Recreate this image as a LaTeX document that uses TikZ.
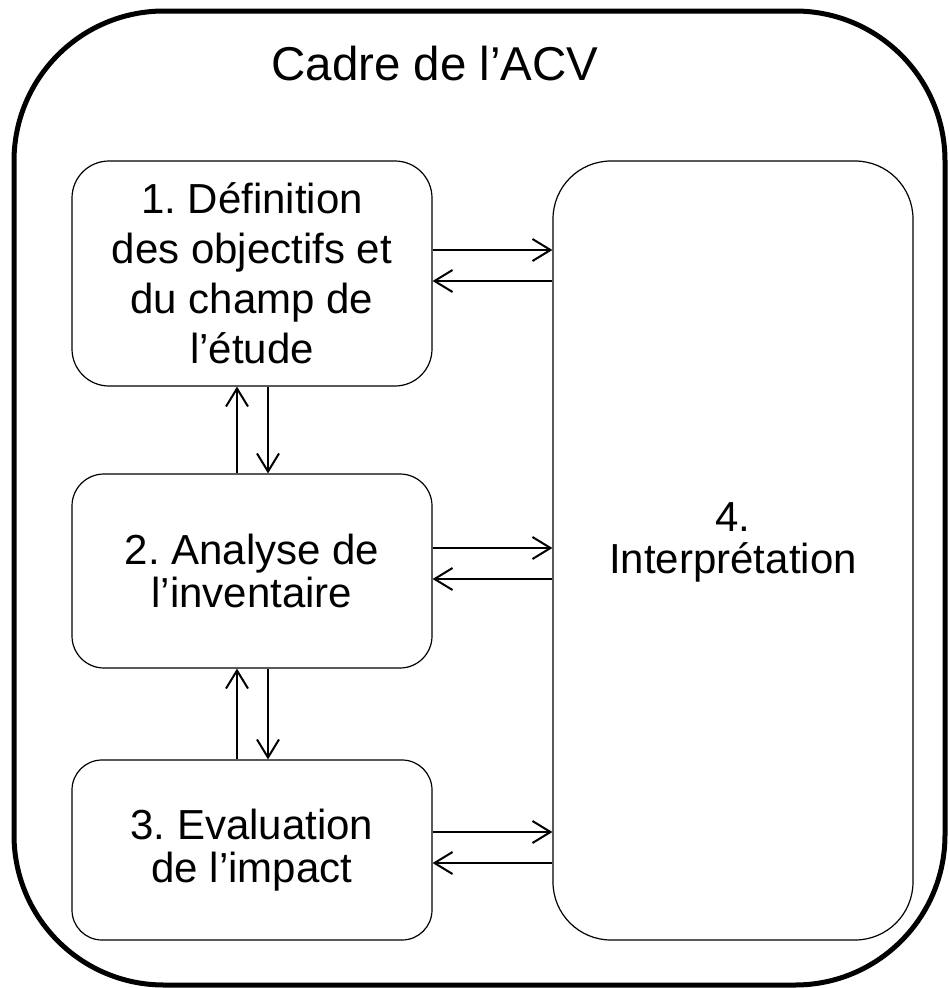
\documentclass[tikz,border=0pt]{standalone}
\usepackage{fontspec}
\setmainfont{Liberation Sans}
\usetikzlibrary{arrows.meta}
\frenchspacing
\begin{document}
\begin{tikzpicture}[x=1pt,y=-1pt,
  frame/.style={line width=5pt, rounded corners=150pt},
  box/.style={draw, line width=1.2pt, minimum width=360pt, align=center,
    font=\fontsize{42}{43}\selectfont, inner sep=0pt},
  txt/.style={align=center, font=\fontsize{42}{42}\selectfont, inner sep=0pt},
  arr/.style={line width=2pt, -{Straight Barb[length=18pt,width=22pt,line width=2pt]}}]
\useasboundingbox (0,0) rectangle (949,988);
\draw[frame] (14,11) rectangle (945,985);
\node[anchor=base, font=\fontsize{47.5}{50}\selectfont\frenchspacing] (title) at (435,80) {Cadre de l’ACV};
\node[box, minimum height=225pt, rounded corners=37pt, font=\fontsize{42}{50}\selectfont] (b1) at (252,273.5)
  {1. Définition\\des objectifs et\\du champ de\\l’étude};
\node[box, minimum height=194pt, rounded corners=32pt] (b2) at (252,571)
  {2. Analyse de\\l’inventaire};
\node[box, minimum height=180pt, rounded corners=30pt] (b3) at (252,850)
  {3. Evaluation\\de l’impact};
\node[box, minimum height=779pt, rounded corners=58pt] (b4) at (733,550.5) {};
\node[txt] (b4t) at (733,542) {4.\\Interprétation};
% horizontal arrows
\draw[arr] (b1.east |- 0,250) -- (b4.west |- 0,250);
\draw[arr] (b4.west |- 0,281) -- (b1.east |- 0,281);
\draw[arr] (b2.east |- 0,548) -- (b4.west |- 0,548);
\draw[arr] (b4.west |- 0,579) -- (b2.east |- 0,579);
\draw[arr] (b3.east |- 0,832) -- (b4.west |- 0,832);
\draw[arr] (b4.west |- 0,863) -- (b3.east |- 0,863);
% vertical arrows
\draw[arr] (b2.north -| 237,0) -- (b1.south -| 237,0);
\draw[arr] (b1.south -| 268,0) -- (b2.north -| 268,0);
\draw[arr] (b3.north -| 237,0) -- (b2.south -| 237,0);
\draw[arr] (b2.south -| 268,0) -- (b3.north -| 268,0);
\end{tikzpicture}
\end{document}
